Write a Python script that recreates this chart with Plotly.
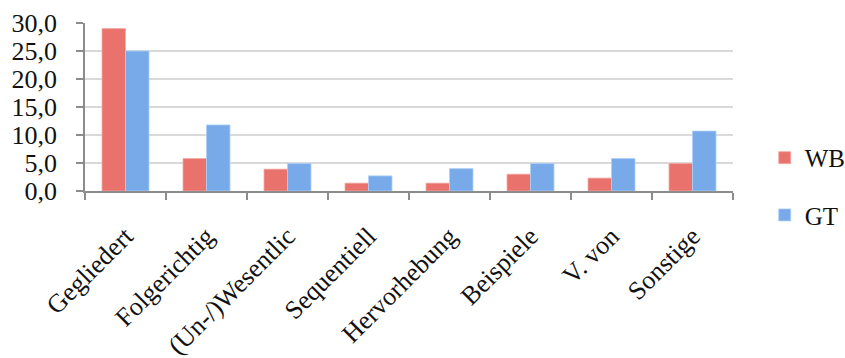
import plotly.graph_objects as go

categories = ["Gegliedert", "Folgerichtig", "(Un-/)Wesentlic", "Sequentiell",
              "Hervorhebung", "Beispiele", "V. von", "Sonstige"]
wb_values = [29.0, 5.8, 3.9, 1.4, 1.4, 3.0, 2.3, 4.9]
gt_values = [25.0, 11.8, 4.9, 2.7, 4.0, 4.9, 5.8, 10.7]
y_ticks = [0, 5, 10, 15, 20, 25, 30]

FONT = "Liberation Serif"

fig = go.Figure()
fig.add_trace(go.Bar(
    x=categories, y=wb_values, name="WB", showlegend=True,
    marker=dict(color="#e9736c", line=dict(color="#f4a8a3", width=0.8)),
    legend="legend",
))
fig.add_trace(go.Bar(
    x=categories, y=gt_values, name="GT", showlegend=True,
    marker=dict(color="#78aae9", line=dict(color="#acd0f8", width=0.8)),
    legend="legend2",
))

legend_common = dict(xref="container", yref="container", x=0.905,
                     xanchor="left", yanchor="middle",
                     font=dict(size=25, family=FONT, color="#111111"),
                     bgcolor="rgba(0,0,0,0)", borderwidth=0)

fig.update_layout(
    width=845, height=358,
    margin=dict(l=85, r=112, t=23, b=167),
    paper_bgcolor="white", plot_bgcolor="white",
    barmode="group", bargap=0.42, bargroupgap=0,
    separators=",.",
    showlegend=True,
    font=dict(family=FONT, color="#111111", size=24),
    legend=dict(y=0.559, **legend_common),
    legend2=dict(y=0.399, **legend_common),
)
fig.update_yaxes(
    range=[0, 30], tickvals=y_ticks, tickformat=".1f", automargin=False,
    showgrid=True, gridcolor="#d9d9d9", gridwidth=1.5,
    showline=True, linecolor="#8c8c8c", linewidth=1.5,
    ticks="outside", ticklen=7, tickcolor="#8c8c8c", tickwidth=1.5,
    ticklabelstandoff=14,
    tickfont=dict(size=26, family=FONT, color="#111111"), zeroline=False,
)
fig.update_xaxes(
    automargin=False,
    showline=True, linecolor="#8c8c8c", linewidth=1.5,
    ticks="outside", ticklen=7, tickcolor="#8c8c8c", tickwidth=1.5,
    tickson="boundaries", tickangle=-45, ticklabelstandoff=18,
    tickfont=dict(size=26, family=FONT, color="#111111"), showgrid=False,
)

fig.write_html("out.html")
